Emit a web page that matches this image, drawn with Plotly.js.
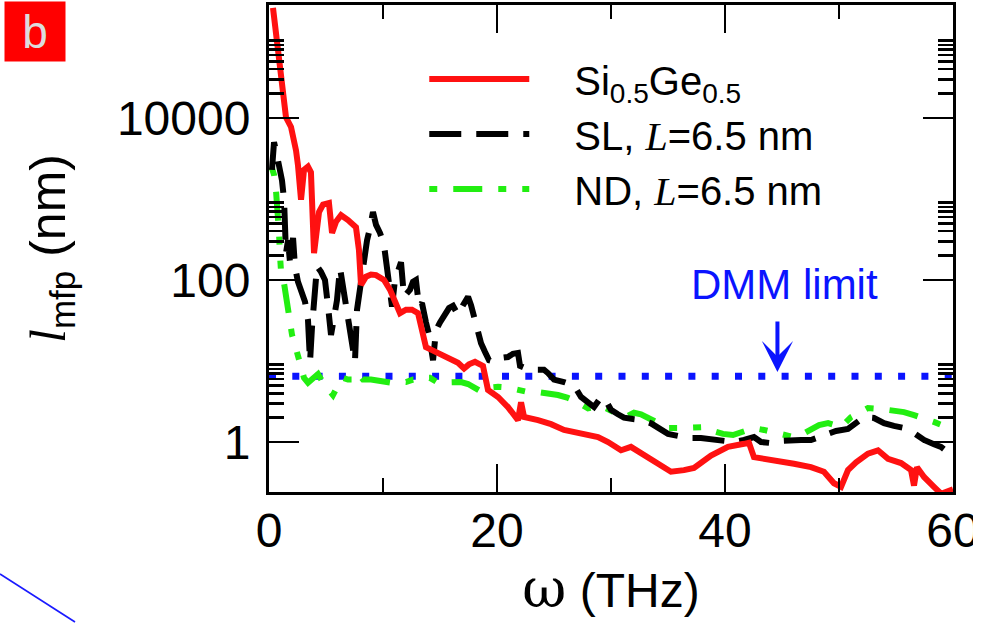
<!DOCTYPE html>
<html>
<head>
<meta charset="utf-8">
<script src="https://cdn.plot.ly/plotly-3.0.1.min.js"></script>
<style>
  html, body { margin: 0; padding: 0; background: #fff; }
  #chart { width: 997px; height: 624px; }
</style>
</head>
<body>
<div id="chart"></div>
<script>
// ---------- data ----------
const sigeX = [0.35,0.79,1.23,1.49,1.93,2.19,2.37,2.54,2.81,3.07,3.42,3.68,3.95,4.39,4.74,5.26,5.53,5.88,6.32,6.93,7.63,7.89,8.07,8.51,8.95,9.39,10.09,10.61,11.05,11.49,12.02,12.54,13.07,13.42,13.77,14.21,14.82,15.70,16.58,17.11,17.54,18.07,18.77,19.21,20.09,20.96,21.84,22.11,22.37,23.60,24.74,25.88,27.37,28.86,29.74,30.88,31.75,33.25,34.65,35.26,36.40,37.28,38.77,40.26,41.67,42.10,42.54,44.30,46.05,47.54,48.68,49.56,50.18,50.79,51.50,52.54,53.42,54.30,55.44,56.32,56.58,56.84,57.46,58.33,58.95,60.0];
const sigeY = [229000,69200,16600,10200,7760,5370,3980,2630,977,2290,2510,2140,214,692,851,891,380,525,631,550,447,234,87,110,117,115,100,76,52,39,43,43,39,24,14.8,13.8,12.6,11.2,9.5,8.1,9.1,9.8,8.7,4.4,3.6,2.7,1.86,3.1,2.04,1.86,1.66,1.41,1.29,1.15,1.0,0.79,0.87,0.65,0.48,0.43,0.45,0.48,0.68,0.87,0.95,0.98,0.65,0.60,0.54,0.49,0.43,0.31,0.28,0.45,0.56,0.72,0.79,0.62,0.55,0.45,0.29,0.49,0.37,0.28,0.23,0.26];

const slX = [0.26,0.44,0.61,0.79,0.96,1.14,1.32,1.40,1.49,1.67,1.84,2.11,2.28,2.54,2.81,3.16,3.42,3.60,3.77,4.04,4.21,4.56,4.91,5.18,5.44,5.70,5.96,6.23,6.49,6.75,7.02,7.28,7.54,7.72,7.98,8.33,8.60,8.86,9.12,9.39,9.74,10.09,10.35,10.61,10.79,11.05,11.32,11.58,11.84,12.11,12.37,12.63,12.89,13.16,13.42,13.77,14.04,14.39,14.65,15.0,15.35,15.79,16.14,16.58,17.02,17.46,17.72,17.98,18.33,18.60,18.95,19.30,19.74,20.09,20.53,20.96,21.40,21.84,22.02,22.54,23.25,24.12,24.47,25.0,25.88,26.75,27.37,27.98,28.51,28.95,29.39,29.74,30.0,30.61,31.14,31.93,32.63,33.51,34.21,35.0,35.88,36.75,37.89,39.04,39.91,40.79,41.67,42.54,43.16,44.04,44.91,45.79,46.67,47.54,48.25,49.04,49.74,50.79,51.49,52.19,53.07,53.95,54.82,55.70,56.58,57.46,58.33,58.95,59.56,60.0];
const slY = [2290,5010,3980,3020,2290,1700,977,417,214,309,166,331,145,95,76,54,32,9.8,26,76,148,126,100,47,21,34,56,141,87,49,32,18,9.8,43,81,204,309,437,692,479,380,269,155,76,47,100,132,166,62,69,76,95,100,47,52,30,21,10.2,24,30,37,45,48,37,49,62,49,35,22,16.6,12.9,10.2,9.8,9.8,11,11.2,12.3,12.6,8.7,8.1,7.8,7.8,7.1,5.9,5.5,5.0,3.6,3.0,2.7,3.3,3.6,2.9,2.5,2.2,2.0,1.92,1.87,1.7,1.49,1.26,1.19,1.12,1.12,1.06,1.03,1.0,1.06,1.15,1.0,0.97,1.03,1.06,1.06,1.06,1.15,1.29,1.37,1.45,1.71,2.03,1.98,1.71,1.58,1.49,1.29,1.06,0.94,0.87,0.75,0.67];

const ndX = [0.26,0.44,0.61,0.79,0.88,0.96,1.05,1.32,1.49,1.75,2.02,2.28,2.54,2.72,3.07,3.42,3.86,4.30,4.74,5.35,5.61,6.05,6.49,6.93,7.37,7.81,8.25,8.95,9.82,10.70,11.40,12.02,12.63,13.25,13.68,14.12,14.82,15.53,16.14,16.84,17.46,17.98,18.60,19.30,20.09,20.96,21.84,22.54,23.25,24.30,25.35,26.23,27.11,27.98,28.51,29.39,30.18,30.88,31.49,32.02,32.63,33.25,34.12,35.0,35.96,37.02,38.16,38.95,39.82,40.70,41.67,42.54,43.42,44.30,45.18,46.05,46.84,47.54,48.25,49.04,49.74,50.18,51.05,51.75,52.54,53.68,54.82,55.70,56.58,57.46,58.33,59.21,60.0];
const ndY = [2400,2000,1290,724,380,204,132,91,62,32,21,15.8,11,9.1,6.2,5.4,6.2,6.9,5.4,4.4,3.8,5.0,6.2,5.9,5.9,7.1,5.9,5.9,5.6,5.4,5.6,5.5,5.9,5.9,6.2,6.2,5.4,5.5,5.5,5.5,5.2,4.8,4.2,4.7,4.8,4.7,4.4,4.2,4.2,4.0,3.8,3.5,3.1,2.6,2.7,2.7,2.4,2.1,2.1,2.3,2.2,2.0,1.71,1.49,1.49,1.49,1.53,1.37,1.26,1.22,1.33,1.49,1.41,1.33,1.22,1.15,1.26,1.41,1.62,1.71,1.62,1.53,2.03,2.34,2.63,2.56,2.48,2.34,2.15,1.98,1.77,1.58,1.41];

const dmmX = [0, 60];
const dmmY = [6.5, 6.5];
const dmmArrowX = 44.6;

const xTickVals = [0, 20, 40, 60];
const xMinorVals = [10, 30, 50];
const yTickVals = [1, 100, 10000];
const yTickText = ['1', '100', '10000'];
const yMinorVals = [2,3,4,5,6,7,8,9,200,300,400,500,600,700,800,900,20000,30000,40000,50000,60000,70000,80000,90000];

const seriesNames = [
  'Si<sub>0.5</sub>Ge<sub>0.5</sub>',
  'SL, <span style="font-family:Liberation Serif;font-style:italic">L</span>=6.5 nm',
  'ND, <span style="font-family:Liberation Serif;font-style:italic">L</span>=6.5 nm'
];

// ---------- chart ----------
const SANS = 'Liberation Sans, Arial, Helvetica, sans-serif';
const GAP = '\u2003';

const traces = [
  { x: dmmX, y: dmmY, mode: 'lines', showlegend: false, hoverinfo: 'skip',
    line: { color: '#0a14ff', width: 7, dash: '7px,16.3px' } },
  { x: ndX, y: ndY, mode: 'lines', name: GAP + seriesNames[2], legendrank: 3, legendgroup: 'c',
    line: { color: '#22ee11', width: 6, dash: '8px,16px,29px,16px,8px,16px' } },
  { x: slX, y: slY, mode: 'lines', name: GAP + seriesNames[1], legendrank: 2, legendgroup: 'b',
    line: { color: '#000000', width: 6, dash: '32px,15px' } },
  { x: sigeX, y: sigeY, mode: 'lines', name: GAP + seriesNames[0], legendrank: 1, legendgroup: 'a',
    line: { color: '#ff1111', width: 6 } }
];

const layout = {
  width: 997, height: 624,
  margin: { l: 269, r: 44, t: 5, b: 132, pad: 0 },
  paper_bgcolor: '#ffffff', plot_bgcolor: '#ffffff',
  font: { family: SANS, color: '#000000', size: 40 },
  showlegend: true,
  legend: {
    x: 0.227, y: 0.915, xanchor: 'left', yanchor: 'top',
    bgcolor: 'rgba(0,0,0,0)', borderwidth: 0,
    font: { family: SANS, size: 40, color: '#000' },
    itemwidth: 100, tracegroupgap: 15, traceorder: 'normal'
  },
  xaxis: {
    range: [0, 60], fixedrange: true,
    tickmode: 'array', tickvals: xTickVals, ticktext: xTickVals.map(String),
    ticks: 'inside', ticklen: 28, tickwidth: 2.5, tickcolor: '#000',
    minor: { tickmode: 'array', tickvals: xMinorVals, ticks: 'inside', ticklen: 14, tickwidth: 2.5, tickcolor: '#000', showgrid: false },
    showline: true, linewidth: 3, linecolor: '#000', mirror: 'ticks',
    showgrid: false, zeroline: false,
    tickfont: { family: SANS, size: 48, color: '#000' },
    ticklabelstandoff: -6,
    title: { text: '<span style="font-family:DejaVu Serif;font-size:54px">ω</span> (THz)', font: { family: SANS, size: 48, color: '#000' }, standoff: 10 }
  },
  yaxis: {
    type: 'log', range: [-0.617, 5.395], fixedrange: true,
    tickmode: 'array', tickvals: yTickVals, ticktext: yTickText,
    ticks: 'inside', ticklen: 30, tickwidth: 2.5, tickcolor: '#000',
    minor: { tickmode: 'array', tickvals: yMinorVals, ticks: 'inside', ticklen: 15, tickwidth: 2.5, tickcolor: '#000', showgrid: false },
    showline: true, linewidth: 3, linecolor: '#000', mirror: 'ticks',
    showgrid: false, zeroline: false,
    tickfont: { family: SANS, size: 48, color: '#000' },
    ticklabelstandoff: 6,
    title: { text: '<span style="font-family:Liberation Serif;font-style:italic">l</span><sub>mfp</sub> (nm)', font: { family: SANS, size: 50, color: '#000' }, standoff: 36 }
  },
  annotations: [
    { xref: 'paper', yref: 'paper', x: (35 - 269) / 684, y: (492 - 32) / 487,
      text: 'b', showarrow: false, bgcolor: '#ff0000', width: 58, height: 57, borderpad: 1,
      font: { family: SANS, size: 46, color: '#dcdcdc' }, xanchor: 'center', yanchor: 'middle' },
    { xref: 'x', yref: 'y', x: 45.2, y: 1.94, text: 'DMM limit', showarrow: false,
      font: { family: SANS, size: 42, color: '#0a14ff' }, xanchor: 'center', yanchor: 'middle' },
    { xref: 'x', yref: 'y', x: dmmArrowX, y: Math.log10(dmmY[0]) + 0.05, text: '',
      showarrow: true, axref: 'pixel', ayref: 'pixel', ax: 0, ay: -52,
      arrowhead: 3, arrowsize: 1.3, arrowwidth: 4, arrowcolor: '#0a14ff', standoff: 0 }
  ],
  shapes: [
    { type: 'rect', xref: 'paper', yref: 'paper', x0: (973 - 269) / 684, x1: (1000 - 269) / 684,
      y0: (492 - 575) / 487, y1: (492 - 500) / 487, fillcolor: '#ffffff', line: { width: 0 }, layer: 'above' },
    { type: 'line', xref: 'paper', yref: 'paper', x0: (0 - 269) / 684, y0: (492 - 574) / 487,
      x1: (75 - 269) / 684, y1: (492 - 622) / 487, line: { color: '#1a1aff', width: 1.6 }, layer: 'above' }
  ]
};

Plotly.newPlot('chart', traces, layout, { staticPlot: true, displayModeBar: false });
</script>
</body>
</html>
